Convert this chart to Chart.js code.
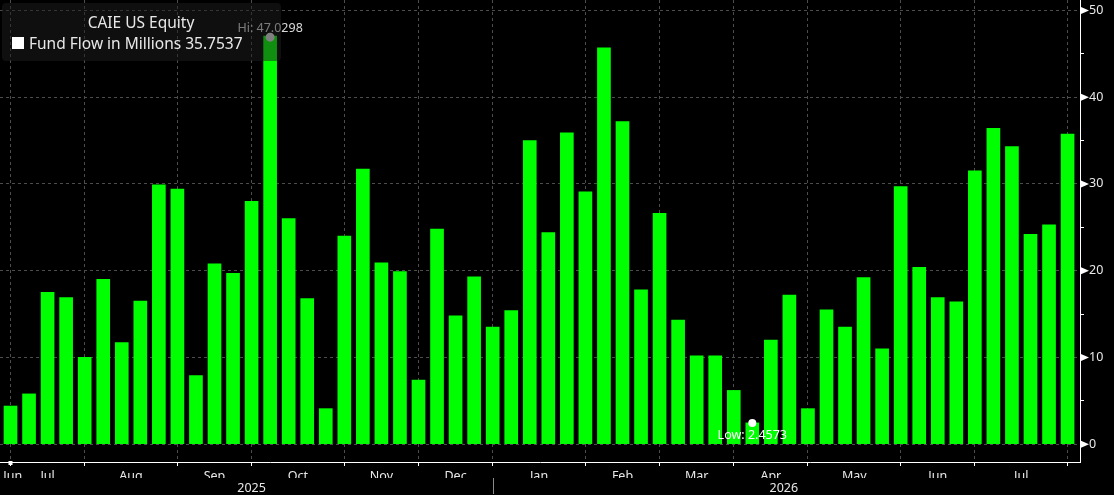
<!DOCTYPE html>
<html>
<head>
<meta charset="utf-8">
<script src="https://cdn.jsdelivr.net/npm/chart.js@4.4.1/dist/chart.umd.min.js"></script>
<style>
  html, body { margin: 0; padding: 0; background: #000; }
  #wrap { width: 1114px; height: 495px; }
</style>
</head>
<body>
<div id="wrap"><canvas id="flow-chart"></canvas></div>
<script>
// weekly fund flow, in millions
const flowValues = [
    4.4, 5.8, 17.5, 16.9, 10.0, 19.0, 11.7, 16.5, 29.9, 29.4,
    7.9, 20.8, 19.7, 28.0, 47.0298, 26.0, 16.8, 4.1, 24.0, 31.7,
    20.9, 19.9, 7.4, 24.8, 14.8, 19.3, 13.5, 15.4, 35.0, 24.4,
    35.9, 29.1, 45.7, 37.2, 17.8, 26.6, 14.3, 10.2, 10.2, 6.2,
    2.4573, 12.0, 17.2, 4.1, 15.5, 13.5, 19.2, 11.0, 29.7, 20.4,
    16.9, 16.4, 31.5, 36.4, 34.3, 24.2, 25.3, 35.7537
];
// week index where each month boundary tick sits
const monthTicks = [0, 4, 9, 13, 18, 22, 26, 31, 35, 39, 43, 48, 52, 57];
const monthLabels = ['Jun', 'Jul', 'Aug', 'Sep', 'Oct', 'Nov', 'Dec', 'Jan', 'Feb', 'Mar', 'Apr', 'May', 'Jun', 'Jul'];
const monthLabelPos = [0.12, 2, 6.5, 11, 15.5, 20, 24, 28.5, 33, 37, 41, 45.5, 50, 54.5];
const yearLabels = ['2025', '2026'];
const yearLabelPos = [13, 41.7];
const yearBreak = 26;
const yTicks = [0, 5, 10, 15, 20, 25, 30, 35, 40, 45, 50];

const seriesName = 'Fund Flow in Millions';
const securityName = 'CAIE US Equity';

const FONT = '"Noto Sans", "Liberation Sans", sans-serif';
const GRID = '#4d4d4d';
const TEXT = '#e8e8e8';

function noPad(s) {
    s.paddingTop = 0;
    s.paddingBottom = 0;
    s.paddingLeft = 0;
    s.paddingRight = 0;
}

document.addEventListener('DOMContentLoaded', function () {
    const points = flowValues.map((v, i) => ({ x: i, y: v }));
    const xMin = -0.566, xMax = 57.67;

    const extras = {
        id: 'extras',
        afterDatasetsDraw(chart) {
            const ctx = chart.ctx;
            const meta = chart.getDatasetMeta(0);
            const hi = flowValues.indexOf(Math.max(...flowValues));
            const lo = flowValues.indexOf(Math.min(...flowValues));
            ctx.save();
            ctx.textAlign = 'center';
            ctx.font = '12.5px ' + FONT;

            // high marker
            let bar = meta.data[hi];
            ctx.fillStyle = '#d8d8d8';
            ctx.fillText('Hi: ' + flowValues[hi], bar.x, bar.y - 4);
            ctx.beginPath();
            ctx.arc(bar.x, bar.y + 1, 4.5, 0, Math.PI * 2);
            ctx.fillStyle = '#e0e0e0';
            ctx.fill();

            // low marker
            bar = meta.data[lo];
            ctx.beginPath();
            ctx.arc(bar.x, bar.y, 4, 0, Math.PI * 2);
            ctx.fillStyle = '#ffffff';
            ctx.fill();
            ctx.fillText('Low: ' + flowValues[lo], bar.x, bar.y + 16);

            // legend box
            ctx.fillStyle = 'rgba(30, 30, 30, 0.5)';
            ctx.beginPath();
            ctx.roundRect(2, 3, 279, 58, 4);
            ctx.fill();
            ctx.fillStyle = TEXT;
            ctx.font = '15.5px ' + FONT;
            ctx.fillText(securityName, 141, 28);
            ctx.textAlign = 'left';
            ctx.fillStyle = '#ffffff';
            ctx.fillRect(12, 37, 12, 12);
            ctx.fillStyle = TEXT;
            ctx.fillText(seriesName + ' ' + flowValues[flowValues.length - 1], 29, 49);
            ctx.restore();
        },
        afterDraw(chart) {
            const ctx = chart.ctx;
            const y = chart.scales.y, x = chart.scales.x;
            const left = chart.chartArea.right + 1;
            ctx.save();
            ctx.fillStyle = '#ffffff';
            yTicks.filter(v => v % 10 === 0).forEach(v => {
                const py = y.getPixelForValue(v);
                ctx.beginPath();
                ctx.moveTo(left, py - 3.5);
                ctx.lineTo(left, py + 3.5);
                ctx.lineTo(left + 8, py);
                ctx.closePath();
                ctx.fill();
            });
            // current-range marker on the time axis
            ctx.fillRect(x.getPixelForValue(0) - 2, chart.chartArea.bottom - 1, 4, 4);
            // year separator
            const bx = Math.round(chart.scales.xy.getPixelForValue(yearBreak)) + 0.5;
            ctx.strokeStyle = '#8a8a8a';
            ctx.lineWidth = 1;
            ctx.beginPath();
            ctx.moveTo(bx, 478);
            ctx.lineTo(bx, 494);
            ctx.stroke();
            ctx.restore();
        }
    };

    const ctxFlow = document.getElementById('flow-chart').getContext('2d');
    new Chart(ctxFlow, {
        type: 'bar',
        data: {
            datasets: [{
                label: seriesName,
                data: points,
                backgroundColor: '#00ff00',
                borderWidth: 0,
                barThickness: 13
            }]
        },
        options: {
            responsive: true,
            maintainAspectRatio: false,
            animation: false,
            layout: { padding: 0 },
            plugins: {
                legend: { display: false },
                tooltip: { enabled: false }
            },
            scales: {
                x: {
                    type: 'linear',
                    position: 'bottom',
                    weight: 0,
                    min: xMin,
                    max: xMax,
                    offset: false,
                    afterBuildTicks: s => { s.ticks = monthTicks.map(v => ({ value: v })); },
                    afterFit: s => { s.height = 3; noPad(s); },
                    ticks: { display: false },
                    grid: {
                        offset: false,
                        color: GRID,
                        tickColor: '#ffffff',
                        tickLength: 4
                    },
                    border: { color: '#ffffff', width: 1, dash: [3, 3] }
                },
                xm: {
                    type: 'linear',
                    position: 'bottom',
                    axis: 'x',
                    weight: 1,
                    min: xMin,
                    max: xMax,
                    offset: false,
                    afterBuildTicks: s => { s.ticks = monthLabelPos.map(v => ({ value: v })); },
                    afterFit: s => { s.height = 13; noPad(s); },
                    ticks: {
                        autoSkip: false,
                        maxRotation: 0,
                        padding: 4,
                        color: TEXT,
                        font: { family: FONT, size: 12.5 },
                        callback: (v, i) => monthLabels[i]
                    },
                    grid: { display: false, drawTicks: false, offset: false },
                    border: { display: false }
                },
                xy: {
                    type: 'linear',
                    position: 'bottom',
                    axis: 'x',
                    weight: 2,
                    min: xMin,
                    max: xMax,
                    offset: false,
                    afterBuildTicks: s => { s.ticks = yearLabelPos.map(v => ({ value: v })); },
                    afterFit: s => { s.height = 17; noPad(s); },
                    ticks: {
                        autoSkip: false,
                        maxRotation: 0,
                        padding: 3,
                        color: TEXT,
                        font: { family: FONT, size: 12.5 },
                        callback: (v, i) => yearLabels[i]
                    },
                    grid: { display: false, drawTicks: false, offset: false },
                    border: { display: false }
                },
                y: {
                    position: 'right',
                    min: -2.05,
                    max: 51.2,
                    afterBuildTicks: s => { s.ticks = yTicks.map(v => ({ value: v })); },
                    afterFit: s => { s.width = 34; noPad(s); },
                    ticks: {
                        padding: 5,
                        color: TEXT,
                        font: { family: FONT, size: 12.5 },
                        callback: v => (v % 10 === 0 ? v : '')
                    },
                    grid: {
                        color: c => (c.tick && c.tick.value % 10 === 0 ? GRID : 'rgba(0,0,0,0)'),
                        tickColor: '#ffffff',
                        tickLength: 4
                    },
                    border: { color: '#ffffff', width: 1, dash: [3, 3] }
                }
            }
        },
        plugins: [extras]
    });
});
</script>
</body>
</html>
